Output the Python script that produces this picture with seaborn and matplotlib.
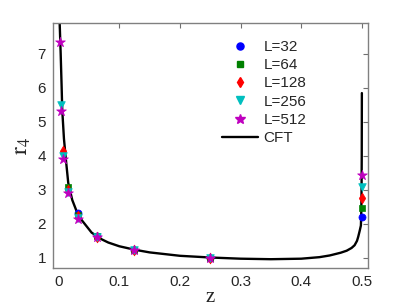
import numpy as np
import pandas as pd
import matplotlib
matplotlib.use("Agg")
import matplotlib.pyplot as plt
import seaborn as sns
from matplotlib.lines import Line2D

# ---- data ----
L_labels = ["L=32", "L=64", "L=128", "L=256", "L=512"]
z_L32 = [1/32, 2/32, 4/32, 8/32, 16/32]
r_L32 = [2.31, 1.65, 1.23, 1.00, 2.19]
z_L64 = [1/64, 2/64, 4/64, 8/64, 16/64, 32/64]
r_L64 = [3.07, 2.26, 1.63, 1.22, 1.00, 2.46]
z_L128 = [1/128, 2/128, 4/128, 8/128, 16/128, 32/128, 64/128]
r_L128 = [4.13, 3.00, 2.22, 1.62, 1.22, 1.00, 2.75]
z_L256 = [1/256, 2/256, 4/256, 8/256, 16/256, 32/256, 64/256, 128/256]
r_L256 = [5.50, 4.00, 2.93, 2.18, 1.62, 1.22, 1.00, 3.08]
z_L512 = [1/512, 2/512, 4/512, 8/512, 16/512, 32/512, 64/512, 128/512, 256/512]
r_L512 = [7.33, 5.31, 3.89, 2.90, 2.15, 1.61, 1.22, 1.00, 3.43]

cft_z = [0.0012, 0.00165, 0.0033, 0.0049, 0.0059, 0.0087, 0.012, 0.0158,
         0.0224, 0.03, 0.0379, 0.0544, 0.0714, 0.0818, 0.1, 0.125, 0.15,
         0.2, 0.25, 0.3, 0.35, 0.4, 0.43, 0.447, 0.465, 0.475, 0.483,
         0.488, 0.492, 0.494, 0.4965, 0.4984, 0.499, 0.4995, 0.4998, 0.5]
cft_r = [9.0, 7.9, 7.0, 6.02, 5.34, 4.5, 3.87, 3.2,
         2.7, 2.35, 2.11, 1.74, 1.54, 1.45, 1.34, 1.24, 1.16,
         1.06, 1.01, 0.975, 0.96, 0.975, 1.02, 1.07, 1.15, 1.21, 1.29,
         1.37, 1.5, 1.62, 1.8, 1.95, 2.3, 3.0, 4.0, 5.84]

x_ticks = [0, 0.1, 0.2, 0.3, 0.4, 0.5]
x_ticklabels = ["0", "0.1", "0.2", "0.3", "0.4", "0.5"]
y_ticks = [1, 2, 3, 4, 5, 6, 7]

series = [(z_L32, r_L32), (z_L64, r_L64), (z_L128, r_L128),
          (z_L256, r_L256), (z_L512, r_L512)]

# ---- style ----
sns.set_style("white")
plt.rcParams["font.family"] = ["Liberation Sans", "DejaVu Sans"]
plt.rcParams["mathtext.fontset"] = "stix"

markers = ["o", "s", "d", "v", "*"]
colors = ["#0000ff", "#008000", "#ff0000", "#00bfbf", "#bf00bf"]
sizes = [26, 22, 30, 30, 55]

fig = plt.figure(figsize=(4.07, 3.06), dpi=100)
ax = fig.add_axes([0.130, 0.124, 0.774, 0.801])

cft_df = pd.DataFrame({"z": cft_z, "r": cft_r})
sns.lineplot(data=cft_df, x="z", y="r", color="black", lw=1.7, sort=False,
             estimator=None, ax=ax, zorder=2)

handles = []
for (zs, rs), lab, m, c, s in zip(series, L_labels, markers, colors, sizes):
    df = pd.DataFrame({"z": zs, "r": rs})
    sns.scatterplot(data=df, x="z", y="r", marker=m, color=c, edgecolor=c,
                    s=s, linewidth=0.5, ax=ax, zorder=3)
    handles.append(Line2D([], [], ls="none", marker=m, color=c,
                          markersize=np.sqrt(s), label=lab))
handles.append(Line2D([], [], color="black", lw=1.7, label="CFT"))

ax.set_xlim(-0.0095, 0.51)
ax.set_ylim(0.7, 7.9)
ax.set_xticks(x_ticks)
ax.set_xticklabels(x_ticklabels)
ax.set_yticks(y_ticks)
ax.tick_params(direction="in", length=3.5, width=0.8, color="#707070",
               top=True, right=True, labelsize=11, pad=5)
for sp in ax.spines.values():
    sp.set_visible(True)
    sp.set_color("#808080")
    sp.set_linewidth(1.0)

ax.set_xlabel("z", fontsize=15, labelpad=-1,
              family=["Liberation Serif", "DejaVu Serif"])
ax.set_ylabel(r"$\mathrm{r}_{4}$", fontsize=17, labelpad=3)

ax.legend(handles=handles, loc="upper left", bbox_to_anchor=(0.537, 0.931),
          frameon=False, fontsize=11, handlelength=2.35, handletextpad=0.35,
          labelspacing=0.28, borderpad=0, borderaxespad=0)

fig.savefig("out.png", dpi=100)
